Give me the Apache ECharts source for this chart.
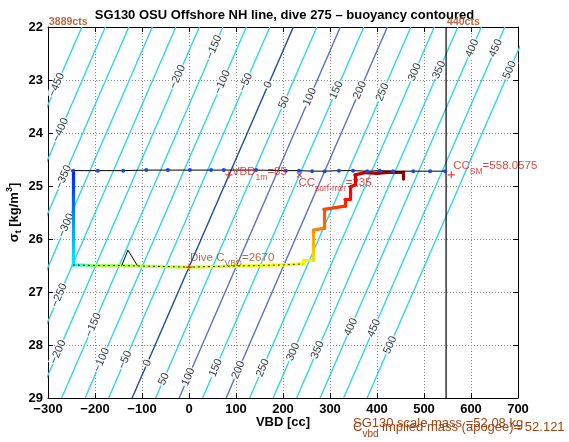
<!DOCTYPE html>
<html>
<head>
<meta charset="utf-8">
<script src="https://cdn.jsdelivr.net/npm/echarts@6.0.0/dist/echarts.min.js"></script>
<style>
html,body{margin:0;padding:0;background:#ffffff;}
#chart{width:569px;height:442px;}
</style>
</head>
<body>
<div id="chart"></div>
<script>
// ---------------- data ----------------
const xTicks = [-300, -200, -100, 0, 100, 200, 300, 400, 500, 600, 700];
const yTicks = [22, 23, 24, 25, 26, 27, 28, 29];

// buoyancy contours: level b crosses sigma=29 at VBD = b + zeroAt29, drifts slope cc per sigma unit
const contourLevels = [-450, -400, -350, -300, -250, -200, -150, -100, -50, 0, 50, 100, 150, 200, 250, 300, 350, 400, 450, 500];
const contourZeroAt29 = -121;
const contourSlope = 49;

const contourLabelLevels = [-450, -400, -350, -300, -250, -200, -200, -150, -150, -100, -100, -50, -50, 0, 0, 50, 50, 100, 100, 150, 150, 200, 200, 250, 250, 300, 300, 350, 350, 400, 400, 450, 450, 500, 500];
const contourLabelSigma = [23.09, 23.94, 24.83, 25.74, 27.06, 28.13, 22.94, 27.62, 22.38, 28.28, 23.04, 28.28, 23.04, 28.34, 23.09, 28.64, 23.42, 28.60, 23.32, 28.43, 23.19, 28.47, 23.19, 28.43, 23.23, 28.13, 22.85, 28.09, 22.81, 27.66, 22.40, 27.68, 22.40, 28.00, 22.81];

// dive path (coloured by time, jet colormap)
const diveVBD   = [-247, -247, -247, -200, -143, -104, -50, 0, 50, 100, 150, 200, 243, 243, 265, 265, 287, 287, 332, 332, 343, 343, 353, 353, 374, 400, 430, 455, 455];
const diveSigma = [24.71, 25.50, 26.49, 26.50, 26.50, 26.51, 26.52, 26.53, 26.52, 26.51, 26.50, 26.49, 26.47, 26.40, 26.40, 25.83, 25.80, 25.44, 25.38, 25.25, 25.25, 25.02, 24.98, 24.79, 24.75, 24.76, 24.74, 24.74, 24.87];
const diveTime  = [0.15, 0.25, 0.36, 0.54, 0.55, 0.56, 0.57, 0.58, 0.59, 0.60, 0.61, 0.62, 0.63, 0.64, 0.65, 0.74, 0.76, 0.80, 0.83, 0.85, 0.86, 0.88, 0.89, 0.92, 0.94, 0.96, 0.97, 0.98, 0.99];

// thin black trace along apogee with spike
const apogeeVBD   = [-247, -200, -143, -104, -50, 0, 50, 100, 150, 200, 243];
const apogeeSigma = [26.49, 26.50, 26.50, 26.51, 26.52, 26.53, 26.52, 26.51, 26.50, 26.49, 26.47];
const spikeVBD   = [-143, -130, -110];
const spikeSigma = [26.50, 26.21, 26.50];

// surface line with blue dots
const surfVBD   = [-247, -194, -140, -91, -45, 2, 47, 74, 143, 206, 234, 262, 289, 319, 349, 379, 406, 434, 477, 513, 545];
const surfSigma = [24.71, 24.71, 24.71, 24.70, 24.70, 24.70, 24.70, 24.70, 24.70, 24.71, 24.71, 24.72, 24.72, 24.71, 24.71, 24.72, 24.71, 24.72, 24.72, 24.72, 24.72];

// markers
const plusVBD   = [85, 558, 0];
const plusSigma = [24.79, 24.79, 26.53];
const crossVBD   = [235];
const crossSigma = [24.79];
const vbdAt440cts = 547;
const ctsLabels = ['3889cts', '440cts'];
const ctsVBD = [-300, 547];

const titleText = 'SG130 OSU Offshore NH line, dive 275 \u2013 buoyancy contoured';

// ---------------- chart ----------------
const FONT = '"Liberation Sans", Arial, Helvetica, sans-serif';
const RED = '#dd1515';
const BROWN = '#a04512';

function jet(t) {
  const c = v => Math.round(255 * Math.max(0, Math.min(1, v)));
  return 'rgb(' + c(1.5 - Math.abs(4 * t - 3)) + ',' + c(1.5 - Math.abs(4 * t - 2)) + ',' + c(1.5 - Math.abs(4 * t - 1)) + ')';
}
function contourVBD(level, sigma) { return level + contourZeroAt29 + contourSlope * (29 - sigma); }
function contourColor(level) {
  if (level === 0) return '#1c4b9c';
  if (level === 100 || level === 200) return '#5b6fc6';
  return '#2fd6e6';
}
const minus = v => String(v).replace('-', '\u2212');
const zip = (a, b) => a.map((v, i) => [v, b[i]]);

const series = [];

// contour lines
contourLevels.forEach(b => {
  series.push({
    type: 'line', silent: true, showSymbol: false, symbol: 'none', clip: true, z: 1,
    data: [[contourVBD(b, 22), 22], [contourVBD(b, 29), 29]],
    lineStyle: { color: contourColor(b), width: 1.4 }
  });
});

// contour labels
series.push({
  type: 'scatter', silent: true, z: 2, clip: false, symbolSize: 1,
  itemStyle: { color: 'rgba(0,0,0,0)' },
  data: contourLabelLevels.map((b, i) => [contourVBD(b, contourLabelSigma[i]), contourLabelSigma[i], b]),
  label: {
    show: true, position: 'inside', rotate: 66.5,
    formatter: p => minus(p.value[2]),
    fontFamily: FONT, fontSize: 11, color: '#000',
    backgroundColor: '#fff', padding: [0, 1]
  },
  emphasis: { disabled: true }
});

// vertical line at 440 cts
series.push({
  type: 'line', silent: true, showSymbol: false, symbol: 'none', z: 3,
  data: [[vbdAt440cts, 22], [vbdAt440cts, 29]],
  lineStyle: { color: '#000', width: 1.2 }
});

// coloured dive path
const diveSegments = [];
for (let i = 0; i < diveVBD.length - 1; i++) {
  const x1 = diveVBD[i], y1 = diveSigma[i], x2 = diveVBD[i + 1], y2 = diveSigma[i + 1];
  const gx = x1 <= x2 ? 0 : 1, gy = y1 >= y2 ? 1 : 0;
  diveSegments.push({
    coords: [[x1, y1], [x2, y2]],
    lineStyle: {
      color: new echarts.graphic.LinearGradient(gx, gy, 1 - gx, 1 - gy, [
        { offset: 0, color: jet(diveTime[i]) }, { offset: 1, color: jet(diveTime[i + 1]) }
      ])
    }
  });
}
series.push({
  type: 'lines', coordinateSystem: 'cartesian2d', xAxisIndex: 0, yAxisIndex: 0,
  silent: true, z: 4, polyline: false,
  lineStyle: { width: 3.2, opacity: 1, curveness: 0, cap: 'round' },
  data: diveSegments
});

// black dashed trace along apogee & spike
series.push({
  type: 'line', silent: true, showSymbol: false, symbol: 'none', z: 5,
  data: zip(apogeeVBD, apogeeSigma),
  lineStyle: { color: '#000', width: 0.8, type: [2, 3] }
});
series.push({
  type: 'line', silent: true, showSymbol: false, symbol: 'none', z: 5,
  data: zip(spikeVBD, spikeSigma),
  lineStyle: { color: '#000', width: 1 }
});

// surface line with blue dots
series.push({
  type: 'line', silent: true, z: 6, symbol: 'circle', symbolSize: 4, showSymbol: true,
  data: zip(surfVBD, surfSigma),
  lineStyle: { color: '#000', width: 1 },
  itemStyle: { color: '#1f47e0', borderWidth: 0 }
});

// plus markers
series.push({
  type: 'scatter', silent: true, z: 7, clip: false,
  symbol: 'path://M5,0 L5,10 M0,5 L10,5', symbolSize: 7,
  itemStyle: { color: 'rgba(0,0,0,0)', borderColor: RED, borderWidth: 1.2 },
  data: zip(plusVBD, plusSigma)
});
series.push({
  type: 'scatter', silent: true, z: 7, clip: false,
  symbol: 'path://M0,0 L10,10 M10,0 L0,10', symbolSize: 5,
  itemStyle: { color: 'rgba(0,0,0,0)', borderColor: RED, borderWidth: 1.1 },
  data: zip(crossVBD, crossSigma)
});

// annotations
function richStyles(color) {
  return {
    m: { fontFamily: FONT, fontSize: 11.5, color: color, verticalAlign: 'top', lineHeight: 16 },
    s: { fontFamily: FONT, fontSize: 8.5, color: color, verticalAlign: 'bottom' }
  };
}
function annot(x, y, text, color, offset) {
  return {
    value: [x, y],
    label: {
      show: true, position: 'inside', align: 'left', verticalAlign: 'middle',
      offset: offset, formatter: text, rich: richStyles(color)
    }
  };
}
series.push({
  type: 'scatter', silent: true, z: 8, clip: false, symbolSize: 1,
  itemStyle: { color: 'rgba(0,0,0,0)' },
  data: [
    annot(plusVBD[0], plusSigma[0], '{m|VBD}{s|1m}{m|=85}', RED, [3, -1]),
    annot(crossVBD[0], crossSigma[0], '{m|CC}{s|surf-min}{m|=235}', RED, [-1, 10]),
    annot(plusVBD[1], plusSigma[1], '{m|CC}{s|SM}{m|=558.0575}', RED, [2, -7]),
    annot(plusVBD[2], plusSigma[2], '{m|Dive C}{s|VBD}{m|=2670}', BROWN, [1, -7])
  ],
  emphasis: { disabled: true }
});

// cts labels above the axes
series.push({
  type: 'scatter', silent: true, z: 8, clip: false, symbolSize: 1,
  itemStyle: { color: 'rgba(0,0,0,0)' },
  data: ctsVBD.map((v, i) => ({ value: [v, 22, ctsLabels[i]] })),
  label: {
    show: true, position: 'inside', align: 'left', verticalAlign: 'middle', offset: [1, -5],
    formatter: p => p.value[2],
    fontFamily: FONT, fontSize: 10.5, fontWeight: 'bold', color: BROWN
  },
  emphasis: { disabled: true }
});

const axisCommonX = {
  type: 'value', min: -300, max: 700, interval: 100
};
const axisCommonY = {
  type: 'value', min: 22, max: 29, interval: 1, inverse: true
};

const option = {
  animation: false,
  backgroundColor: '#ffffff',
  title: {
    text: titleText, left: 'center', top: 4,
    textStyle: { fontFamily: FONT, fontSize: 13, fontWeight: 'bold', color: '#000' }
  },
  grid: { left: 48, right: 51, top: 27, bottom: 44, containLabel: false, outerBoundsMode: 'none' },
  xAxis: [
    Object.assign({}, axisCommonX, {
      position: 'bottom',
      name: 'VBD [cc]', nameLocation: 'middle', nameGap: 18, nameMoveOverlap: false,
      nameTextStyle: { fontFamily: FONT, fontSize: 13, fontWeight: 'bold', color: '#000' },
      axisLine: { show: true, onZero: false, lineStyle: { color: '#000', width: 1 } },
      axisTick: { show: true, inside: true, length: 5, lineStyle: { color: '#000' } },
      axisLabel: { show: true, margin: 5, color: '#000', fontFamily: FONT, fontSize: 13, fontWeight: 'bold', formatter: minus },
      splitLine: { show: true, lineStyle: { color: '#8a8a8a', width: 1, type: [1, 2] } }
    }),
    Object.assign({}, axisCommonX, {
      position: 'top',
      axisLine: { show: true, onZero: false, lineStyle: { color: '#000', width: 1 } },
      axisTick: { show: true, inside: true, length: 5, lineStyle: { color: '#000' } },
      axisLabel: { show: false }, splitLine: { show: false }
    })
  ],
  yAxis: [
    Object.assign({}, axisCommonY, {
      position: 'left',
      name: '{m|\u03c3}{s|t}{m| [kg/m}{p|3}{m|]}', nameLocation: 'middle', nameGap: 25, nameMoveOverlap: false,
      nameTextStyle: {
        rich: {
          m: { fontFamily: FONT, fontSize: 13, fontWeight: 'bold', color: '#000', verticalAlign: 'middle', lineHeight: 18 },
          s: { fontFamily: FONT, fontSize: 9, fontWeight: 'bold', color: '#000', verticalAlign: 'bottom' },
          p: { fontFamily: FONT, fontSize: 9, fontWeight: 'bold', color: '#000', verticalAlign: 'top' }
        }
      },
      axisLine: { show: true, onZero: false, lineStyle: { color: '#000', width: 1 } },
      axisTick: { show: true, inside: true, length: 5, lineStyle: { color: '#000' } },
      axisLabel: { show: true, margin: 5, color: '#000', fontFamily: FONT, fontSize: 13, fontWeight: 'bold' },
      splitLine: { show: true, lineStyle: { color: '#8a8a8a', width: 1, type: [1, 2] } }
    }),
    Object.assign({}, axisCommonY, {
      position: 'right',
      axisLine: { show: true, onZero: false, lineStyle: { color: '#000', width: 1 } },
      axisTick: { show: true, inside: true, length: 5, lineStyle: { color: '#000' } },
      axisLabel: { show: false }, splitLine: { show: false }
    })
  ],
  graphic: [
    {
      type: 'text', left: 353, top: 417, z: 100,
      style: { text: 'SG130 scale mass =52.08 kg', fill: BROWN, font: '13px ' + FONT }
    },
    {
      type: 'text', left: 353, top: 421, z: 100,
      style: {
        text: '{m|C}{s|vbd}{m| implied mass (apogee)= 52.121}',
        rich: {
          m: { fontFamily: FONT, fontSize: 13, fill: BROWN, color: BROWN, verticalAlign: 'top', lineHeight: 18 },
          s: { fontFamily: FONT, fontSize: 10, fill: BROWN, color: BROWN, verticalAlign: 'bottom' }
        }
      }
    }
  ],
  series: series.map(s => Object.assign({ xAxisIndex: 0, yAxisIndex: 0, animation: false }, s))
};

const chart = echarts.init(document.getElementById('chart'), null, { renderer: 'canvas', width: 569, height: 442 });
chart.setOption(option);
</script>
</body>
</html>
